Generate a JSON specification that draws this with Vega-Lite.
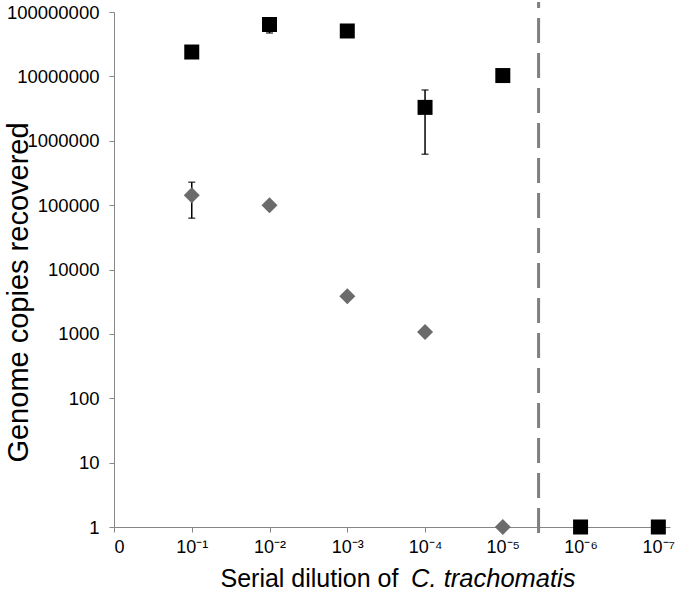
{
  "$schema": "https://vega.github.io/schema/vega-lite/v6.json",
  "width": 556,
  "height": 515,
  "autosize": {"type": "none"},
  "padding": {"left": 114, "top": 12, "right": 6, "bottom": 64},
  "config": {
    "view": {"stroke": null},
    "font": "Liberation Sans",
    "axis": {"grid": false, "domainColor": "#868686", "tickColor": "#868686", "tickSize": 5, "labelColor": "#000000", "titleColor": "#000000", "labelFont": "Liberation Sans", "titleFont": "Liberation Sans", "titleFontWeight": "normal"}
  },
  "resolve": {"axis": {"x": "independent"}},
  "datasets": {
    "points": [
      {"series": "A", "x": 1, "y": 23900000},
      {"series": "A", "x": 2, "y": 64000000},
      {"series": "A", "x": 3, "y": 50700000},
      {"series": "A", "x": 4, "y": 3300000},
      {"series": "A", "x": 5, "y": 10300000},
      {"series": "A", "x": 6, "y": 1},
      {"series": "A", "x": 7, "y": 1},
      {"series": "B", "x": 1, "y": 143000},
      {"series": "B", "x": 2, "y": 100000},
      {"series": "B", "x": 3, "y": 3830},
      {"series": "B", "x": 4, "y": 1070},
      {"series": "B", "x": 5, "y": 1}
    ],
    "errors": [
      {"x": 2, "lo": 47200000, "hi": 75000000},
      {"x": 4, "lo": 617000, "hi": 6150000},
      {"x": 1, "lo": 62700, "hi": 227000}
    ],
    "cutoff": [{"x": 5.46, "lo": 0.81, "hi": 143000000}]
  },
  "layer": [
    {
      "data": {"name": "cutoff"},
      "mark": {"type": "rule", "color": "#7f7f7f", "strokeWidth": 3, "strokeDash": [25, 10]},
      "encoding": {
        "x": {"field": "x", "type": "quantitative", "scale": {"domain": [0, 7.15], "nice": false, "zero": false},
          "axis": {"orient": "bottom", "values": [0, 1, 2, 3, 4, 5, 6, 7], "labelExpr": "['0','10⁻¹','10⁻²','10⁻³','10⁻⁴','10⁻⁵','10⁻⁶','10⁻⁷'][datum.value]", "labelFontSize": 18, "labelPadding": 6, "title": "Serial dilution of", "titleFontSize": 25, "titleBaseline": "middle", "titleAlign": "left", "titleAnchor": "start", "titleX": 106, "titleY": 51}},
        "y": {"field": "lo", "type": "quantitative", "scale": {"type": "log", "domain": [1, 100000000], "nice": false},
          "axis": {"values": [1, 10, 100, 1000, 10000, 100000, 1000000, 10000000, 100000000], "format": "d", "labelFontSize": 18.5, "labelPadding": 10, "title": "Genome copies recovered", "titleFontSize": 29, "titleBaseline": "middle", "titleX": -96, "titleY": 280}},
        "y2": {"field": "hi"}
      }
    },
    {
      "data": {"name": "errors"},
      "mark": {"type": "rule", "color": "#000000", "strokeWidth": 1.5},
      "encoding": {
        "x": {"field": "x", "type": "quantitative",
          "axis": {"orient": "bottom", "domain": false, "ticks": false, "labels": false, "title": "C. trachomatis", "titleFontStyle": "italic", "titleFontSize": 25.5, "titleBaseline": "middle", "titleAlign": "right", "titleAnchor": "end", "titleX": 461, "titleY": 51}},
        "y": {"field": "lo", "type": "quantitative"},
        "y2": {"field": "hi"}
      }
    },
    {
      "data": {"name": "errors"},
      "mark": {"type": "tick", "orient": "horizontal", "color": "#000000", "thickness": 1.5, "size": 7},
      "encoding": {
        "x": {"field": "x", "type": "quantitative", "axis": null},
        "y": {"field": "lo", "type": "quantitative"}
      }
    },
    {
      "data": {"name": "errors"},
      "mark": {"type": "tick", "orient": "horizontal", "color": "#000000", "thickness": 1.5, "size": 7},
      "encoding": {
        "x": {"field": "x", "type": "quantitative", "axis": null},
        "y": {"field": "hi", "type": "quantitative"}
      }
    },
    {
      "data": {"name": "points"},
      "mark": {"type": "point", "filled": true, "opacity": 1},
      "encoding": {
        "x": {"field": "x", "type": "quantitative", "axis": null},
        "y": {"field": "y", "type": "quantitative"},
        "shape": {"field": "series", "type": "nominal", "scale": {"domain": ["A", "B"], "range": ["square", "diamond"]}, "legend": null},
        "color": {"field": "series", "type": "nominal", "scale": {"domain": ["A", "B"], "range": ["#000000", "#6b6b6b"]}, "legend": null},
        "size": {"field": "series", "type": "nominal", "scale": {"domain": ["A", "B"], "range": [225, 256]}, "legend": null}
      }
    }
  ]
}
